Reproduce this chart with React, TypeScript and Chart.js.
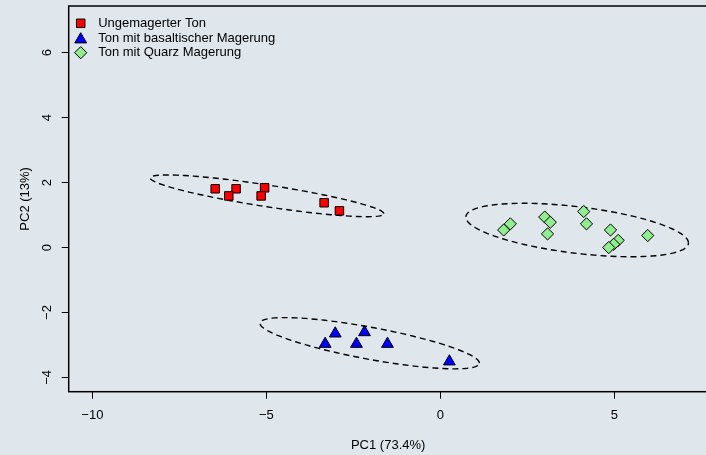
import { useEffect, useRef } from 'react';
import { Chart, registerables } from 'chart.js';
import { drawPoint } from 'chart.js/helpers';

Chart.register(...registerables);

// ---------- data ----------
const seriesNames = ['Ungemagerter Ton', 'Ton mit basaltischer Magerung', 'Ton mit Quarz Magerung'];

const ungemagertX = [-6.47, -5.87, -6.08, -5.05, -5.15, -3.34, -2.9];
const ungemagertY = [1.81, 1.81, 1.59, 1.84, 1.59, 1.38, 1.13];

const basaltX = [-3.02, -2.18, -3.31, -2.41, -1.52, 0.26];
const basaltY = [-2.65, -2.61, -2.97, -2.97, -2.97, -3.51];

const quarzX = [2.01, 1.82, 3.0, 3.16, 3.08, 4.12, 4.2, 4.89, 5.11, 4.98, 4.84, 5.96];
const quarzY = [0.73, 0.54, 0.94, 0.78, 0.42, 1.11, 0.73, 0.54, 0.22, 0.1, 0.0, 0.37];

const xTicks = [-10, -5, 0, 5];
const yTicks = [-4, -2, 0, 2, 4, 6];
const xLimits = [-10, 7];
const yLimits = [-4, 7];

const xTitle = 'PC1 (73.4%)';
const yTitle = 'PC2 (13%)';

// ---------- styles ----------
const BG = '#dfe6ec';
const FONT = "'Liberation Sans', Arial, Helvetica, sans-serif";
const colors = ['#ff0000', '#0000ff', '#90ee90'];
const styles = ['rect', 'triangle', 'rectRot'];
const radii = [6, 6.8, 6.1];
const ellipseScale = Math.sqrt(5.991); // sqrt(qchisq(0.95, 2))

const W = 716;
const H = 455;
const PLOT_LEFT = 68.7;
const PLOT_RIGHT = 707.6;
const PLOT_TOP = 6;
const PLOT_BOTTOM = 391.7;

const fmt = (v: number) => (v < 0 ? '\u2212' + Math.abs(v) : String(v));

function ext(lim: number[]) {
  const r = lim[1] - lim[0];
  return { min: lim[0] - 0.04 * r, max: lim[1] + 0.04 * r };
}

function covEllipse(xs: number[], ys: number[]) {
  const n = xs.length;
  const mx = xs.reduce((a, b) => a + b, 0) / n;
  const my = ys.reduce((a, b) => a + b, 0) / n;
  let a = 0, b = 0, c = 0;
  for (let i = 0; i < n; i++) {
    const dx = xs[i] - mx, dy = ys[i] - my;
    a += dx * dx; b += dx * dy; c += dy * dy;
  }
  a /= n - 1; b /= n - 1; c /= n - 1;
  const l11 = Math.sqrt(a);
  const l21 = b / l11;
  const l22 = Math.sqrt(Math.max(c - l21 * l21, 0));
  return { mx, my, l11, l21, l22 };
}

const groupsX = [ungemagertX, basaltX, quarzX];
const groupsY = [ungemagertY, basaltY, quarzY];

export default function App() {
  const ref = useRef<HTMLCanvasElement>(null);

  useEffect(() => {
    const canvas = ref.current!;
    const xr = ext(xLimits);
    const yr = ext(yLimits);

    const bgPlugin = {
      id: 'bg',
      beforeDraw(chart: any) {
        const ctx = chart.ctx;
        ctx.save();
        ctx.fillStyle = BG;
        ctx.fillRect(0, 0, chart.width, chart.height);
        ctx.restore();
      },
    };

    // force the plot region to the reference's position
    const areaPlugin = {
      id: 'area',
      afterLayout(chart: any) {
        const a = chart.chartArea;
        a.left = PLOT_LEFT;
        a.right = PLOT_RIGHT;
        a.top = PLOT_TOP;
        a.bottom = PLOT_BOTTOM;
        a.width = PLOT_RIGHT - PLOT_LEFT;
        a.height = PLOT_BOTTOM - PLOT_TOP;
        const xs = chart.scales.x;
        const ys = chart.scales.y;
        xs.left = PLOT_LEFT;
        xs.right = PLOT_RIGHT;
        xs.width = PLOT_RIGHT - PLOT_LEFT;
        xs.top = PLOT_BOTTOM;
        xs.bottom = H;
        xs.height = H - PLOT_BOTTOM;
        ys.top = PLOT_TOP;
        ys.bottom = PLOT_BOTTOM;
        ys.height = PLOT_BOTTOM - PLOT_TOP;
        ys.left = 0;
        ys.right = PLOT_LEFT;
        ys.width = PLOT_LEFT;
        xs.configure();
        ys.configure();
      },
    };

    const ellipsePlugin = {
      id: 'ellipses',
      beforeDatasetsDraw(chart: any) {
        const ctx = chart.ctx;
        const xs = chart.scales.x;
        const ys = chart.scales.y;
        const area = chart.chartArea;
        ctx.save();
        ctx.beginPath();
        ctx.rect(area.left, area.top, area.right - area.left, area.bottom - area.top);
        ctx.clip();
        ctx.strokeStyle = '#000';
        ctx.lineWidth = 1.4;
        ctx.setLineDash([6, 4]);
        for (let g = 0; g < groupsX.length; g++) {
          const e = covEllipse(groupsX[g], groupsY[g]);
          ctx.beginPath();
          const N = 120;
          for (let i = 0; i <= N; i++) {
            const t = (i / N) * Math.PI * 2;
            const u = Math.cos(t), v = Math.sin(t);
            const dx = ellipseScale * e.l11 * u;
            const dy = ellipseScale * (e.l21 * u + e.l22 * v);
            const px = xs.getPixelForValue(e.mx + dx);
            const py = ys.getPixelForValue(e.my + dy);
            if (i === 0) ctx.moveTo(px, py);
            else ctx.lineTo(px, py);
          }
          ctx.stroke();
        }
        ctx.restore();
      },
    };

    const boxLegendPlugin = {
      id: 'boxLegend',
      afterDraw(chart: any) {
        const ctx = chart.ctx;
        const a = chart.chartArea;
        ctx.save();
        ctx.strokeStyle = '#000';
        ctx.lineWidth = 1.5;
        ctx.strokeRect(a.left, a.top, a.right - a.left, a.bottom - a.top);
        // legend
        const mx = a.left + 12;
        const ty = a.top + 17.3;
        const step = 14.7;
        ctx.font = `13px ${FONT}`;
        ctx.textBaseline = 'middle';
        ctx.textAlign = 'left';
        chart.data.datasets.forEach((ds: any, i: number) => {
          const y = ty + i * step;
          ctx.fillStyle = ds.backgroundColor;
          ctx.strokeStyle = '#000';
          ctx.lineWidth = 1;
          ctx.setLineDash([]);
          drawPoint(ctx, { pointStyle: ds.pointStyle, radius: ds.pointRadius, borderWidth: 1, rotation: 0 } as any, mx, y + (ds.pointStyle === 'triangle' ? 1.5 : 0));
          ctx.fillStyle = '#000';
          ctx.fillText(ds.label, a.left + 29.5, y);
        });
        ctx.restore();
      },
    };

    const datasets = groupsX.map((xsArr, g) => ({
      label: seriesNames[g],
      data: xsArr.map((x, i) => ({ x, y: groupsY[g][i] })),
      pointStyle: styles[g],
      pointRadius: radii[g],
      pointHoverRadius: radii[g],
      backgroundColor: colors[g],
      borderColor: '#000',
      pointBorderWidth: 1,
      showLine: false,
    }));

    const chart = new Chart(canvas, {
      type: 'scatter',
      data: { datasets: datasets as any },
      options: {
        animation: false,
        responsive: false,
        devicePixelRatio: 1,
        layout: { padding: { left: 0, top: PLOT_TOP, right: W - PLOT_RIGHT, bottom: 0 } },
        plugins: {
          legend: { display: false },
          tooltip: { enabled: false },
          title: { display: false },
        },
        scales: {
          x: {
            type: 'linear',
            min: xr.min,
            max: xr.max,
            afterBuildTicks: (s: any) => {
              s.ticks = xTicks.map((v) => ({ value: v }));
            },
            afterFit: (s: any) => {
              s.height = H - PLOT_BOTTOM;
              s.paddingLeft = 0;
              s.paddingRight = 0;
            },
            ticks: {
              autoSkip: false,
              maxRotation: 0,
              minRotation: 0,
              padding: 9,
              color: '#000',
              font: { family: FONT, size: 13 },
              callback: (v: any) => fmt(Number(v)),
            },
            grid: {
              display: true,
              drawOnChartArea: false,
              drawTicks: true,
              tickLength: 7,
              color: '#000',
              lineWidth: 1,
            },
            border: { display: true, color: '#000', width: 1 },
            title: {
              display: true,
              text: xTitle,
              color: '#000',
              font: { family: FONT, size: 13 },
              padding: { top: 0, bottom: 1.5 },
            },
          },
          y: {
            type: 'linear',
            min: yr.min,
            max: yr.max,
            afterBuildTicks: (s: any) => {
              s.ticks = yTicks.map((v) => ({ value: v }));
            },
            afterFit: (s: any) => {
              s.width = PLOT_LEFT;
              s.paddingTop = 0;
              s.paddingBottom = 0;
            },
            ticks: {
              autoSkip: false,
              minRotation: 90,
              maxRotation: 90,
              crossAlign: 'center',
              padding: 7,
              color: '#000',
              font: { family: FONT, size: 13 },
              callback: (v: any) => fmt(Number(v)),
            },
            grid: {
              display: true,
              drawOnChartArea: false,
              drawTicks: true,
              tickLength: 7,
              color: '#000',
              lineWidth: 1,
            },
            border: { display: true, color: '#000', width: 1 },
            title: {
              display: true,
              text: yTitle,
              color: '#000',
              font: { family: FONT, size: 13 },
              padding: { top: 17.2, bottom: 0 },
            },
          },
        },
      },
      plugins: [bgPlugin, areaPlugin, ellipsePlugin, boxLegendPlugin],
    });

    return () => chart.destroy();
  }, []);

  return (
    <div style={{ position: 'fixed', left: 0, top: 0, width: W, height: H, background: BG, overflow: 'hidden' }}>
      <canvas ref={ref} width={W} height={H} style={{ display: 'block', width: W, height: H }} />
    </div>
  );
}
